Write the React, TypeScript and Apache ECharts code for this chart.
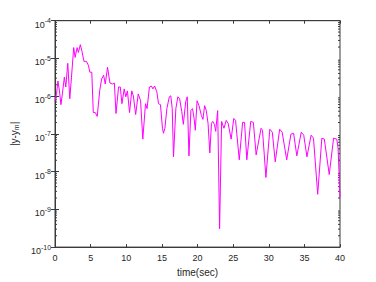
import React, { useEffect, useRef } from 'react';
import * as echarts from 'echarts';

// time (sec)
const times = [
  0, 0.21, 0.41, 0.62, 0.83, 1.03, 1.31, 1.51, 1.79, 2.07,
  2.31, 2.62, 2.82, 3.10, 3.28, 3.55, 3.79, 4.06, 4.41, 4.68,
  4.89, 5.16, 5.37, 5.65, 5.92, 6.27, 6.54, 6.82, 7.05, 7.37,
  7.71, 8.06, 8.33, 8.56, 8.92, 9.16, 9.39, 9.71, 9.94, 10.16,
  10.46, 10.77, 10.99, 11.32, 11.68, 12.01, 12.32, 12.70, 12.92, 13.25,
  13.52, 13.74, 13.98, 14.29, 14.53, 14.80, 15.08, 15.22, 15.42, 15.70,
  16.04, 16.25, 16.45, 16.63, 16.96, 17.24, 17.49, 17.79, 18.01, 18.34,
  18.56, 18.80, 19.07, 19.30, 19.52, 19.69, 19.94, 20.21, 20.54, 20.76,
  21.00, 21.23, 21.48, 21.73, 21.96, 22.14, 22.38, 22.55, 22.83, 23.10,
  23.38, 23.71, 24.03, 24.30, 24.72, 25.09, 25.34, 25.86, 26.33, 26.60,
  26.92, 27.47, 27.84, 28.23, 28.92, 29.12, 29.60, 30.15, 30.50, 30.91,
  31.53, 31.88, 32.52, 33.11, 33.49, 33.94, 34.56, 34.91, 35.36, 35.94,
  36.28, 36.87, 37.45, 37.80, 38.49, 39.10, 39.55, 39.73, 40.0,
];

// |y - y_m|
const errors = [
  7.57e-7, 1.15e-6, 2.52e-6, 1.38e-6, 5.96e-7, 1.15e-6, 3.20e-6, 1.75e-6, 7.41e-6, 8.53e-7,
  3.20e-6, 1.94e-5, 1.06e-5, 1.94e-5, 1.44e-5, 2.32e-5, 1.52e-5, 8.37e-6, 8.37e-6, 6.58e-6,
  4.32e-6, 4.32e-6, 3.68e-7, 3.68e-7, 2.90e-7, 1.38e-6, 2.84e-6, 3.60e-6, 2.10e-6, 5.83e-6,
  2.23e-6, 2.10e-6, 2.23e-6, 3.47e-7, 1.75e-6, 1.75e-6, 6.32e-7, 1.56e-6, 9.62e-7, 1.38e-6,
  3.68e-7, 1.38e-6, 1.02e-6, 3.27e-7, 1.15e-6, 7.57e-7, 7.27e-8, 6.32e-7, 4.68e-7, 1.75e-6,
  1.86e-6, 1.56e-6, 1.86e-6, 1.30e-6, 6.32e-7, 5.96e-7, 1.41e-7, 1.04e-7, 1.41e-7, 4.68e-7,
  9.62e-7, 1.02e-6, 4.68e-7, 2.47e-8, 4.68e-7, 9.62e-7, 8.53e-7, 3.91e-7, 1.79e-7, 7.13e-7,
  9.62e-7, 2.62e-8, 4.15e-7, 4.68e-7, 2.57e-7, 1.25e-7, 7.57e-7, 5.60e-7, 3.08e-7, 2.42e-7,
  5.60e-7, 4.15e-7, 1.90e-7, 3.13e-8, 1.90e-7, 2.14e-7, 1.79e-7, 1.17e-7, 4.15e-7, 3.07e-10,
  2.14e-7, 1.41e-7, 2.28e-7, 1.90e-7, 7.27e-8, 2.57e-7, 2.28e-7, 2.06e-8, 2.02e-7, 2.02e-7,
  2.06e-8, 2.14e-7, 2.02e-7, 2.78e-8, 1.41e-7, 1.25e-7, 6.98e-9, 1.33e-7, 1.11e-7, 1.82e-8,
  1.33e-7, 1.11e-7, 2.06e-8, 9.82e-8, 1.04e-7, 2.62e-8, 1.11e-7, 9.25e-8, 2.47e-8, 9.25e-8,
  7.71e-8, 2.51e-9, 7.71e-8, 7.27e-8, 8.36e-9, 7.71e-8, 7.27e-8, 4.23e-8, 2.10e-9,
];

const xMin = 0;
const xMax = 40;
const xStep = 5;
const yMin = 1e-10;
const yMax = 1e-4;

const decades = [-10, -9, -8, -7, -6, -5];
const minorMultipliers = [2, 3, 4, 5, 6, 7, 8, 9];
const yMinorTicks: number[] = [];
decades.forEach((e) => minorMultipliers.forEach((m) => yMinorTicks.push(m * Math.pow(10, e))));

const AXIS_COLOR = '#3a3a3a';
const TEXT_COLOR = '#262626';
const FONT = 'Liberation Sans, Arial, Helvetica, sans-serif';

export default function App() {
  const ref = useRef<HTMLDivElement>(null);

  useEffect(() => {
    if (!ref.current) return;
    const chart = echarts.init(ref.current, undefined, { renderer: 'svg' });
    const lineData = times.map((t, i) => [t, errors[i]]);

    const option: any = {
      animation: false,
      backgroundColor: '#ffffff',
      textStyle: { fontFamily: FONT },
      grid: {
        left: 49.5,
        right: 36,
        top: 20.7,
        bottom: 31.3,
        show: true,
        borderColor: AXIS_COLOR,
        borderWidth: 1,
        backgroundColor: 'transparent',
      },
      xAxis: [
        {
          type: 'value',
          min: xMin,
          max: xMax,
          interval: xStep,
          position: 'bottom',
          name: 'time(sec)',
          nameLocation: 'middle',
          nameGap: 17,
          nameTextStyle: { fontSize: 10, color: TEXT_COLOR, fontFamily: FONT },
          axisLine: { show: true, lineStyle: { color: AXIS_COLOR, width: 1 } },
          axisTick: { show: true, inside: true, length: 3, lineStyle: { color: AXIS_COLOR } },
          axisLabel: { show: true, margin: 6, fontSize: 9, color: TEXT_COLOR, fontFamily: FONT },
          splitLine: { show: false },
        },
        {
          type: 'value',
          min: xMin,
          max: xMax,
          interval: xStep,
          position: 'top',
          axisLine: { show: true, lineStyle: { color: AXIS_COLOR, width: 1 } },
          axisTick: { show: true, inside: true, length: 3, lineStyle: { color: AXIS_COLOR } },
          axisLabel: { show: false },
          splitLine: { show: false },
        },
      ],
      yAxis: [
        {
          type: 'log',
          logBase: 10,
          min: yMin,
          max: yMax,
          interval: 1,
          position: 'left',
          name: '|y-y{sub|m}|',
          nameLocation: 'middle',
          nameRotate: 90,
          nameGap: 27,
          nameTextStyle: {
            fontSize: 10,
            color: TEXT_COLOR,
            fontFamily: FONT,
            lineHeight: 12,
            rich: {
              sub: { fontSize: 7, lineHeight: 6, verticalAlign: 'bottom', color: TEXT_COLOR, fontFamily: FONT },
            },
          },
          axisLine: { show: true, lineStyle: { color: AXIS_COLOR, width: 1 } },
          axisTick: { show: true, inside: true, length: 4, lineStyle: { color: AXIS_COLOR } },
          axisLabel: {
            show: true,
            margin: 4,
            padding: [5, 0, 0, 0],
            formatter: (v: number) => {
              const e = Math.round(Math.log10(v));
              return `{b|10}{s|${e}}`;
            },
            rich: {
              b: { fontSize: 9, lineHeight: 12, verticalAlign: 'bottom', color: TEXT_COLOR, fontFamily: FONT },
              s: { fontSize: 7, lineHeight: 6, verticalAlign: 'top', color: TEXT_COLOR, fontFamily: FONT },
            },
          },
          splitLine: { show: false },
          minorTick: { show: false },
        },
        {
          type: 'log',
          logBase: 10,
          min: yMin,
          max: yMax,
          interval: 1,
          position: 'right',
          axisLine: { show: true, lineStyle: { color: AXIS_COLOR, width: 1 } },
          axisTick: { show: true, inside: true, length: 4, lineStyle: { color: AXIS_COLOR } },
          axisLabel: { show: false },
          splitLine: { show: false },
        },
      ],
      series: [
        {
          type: 'custom',
          xAxisIndex: 0,
          yAxisIndex: 0,
          silent: true,
          clip: false,
          data: yMinorTicks.map((v) => [xMin, v]),
          encode: { x: 0, y: 1 },
          renderItem: (params: any, api: any) => {
            const v = api.value(1);
            const l = api.coord([xMin, v]);
            const r = api.coord([xMax, v]);
            const style = { stroke: AXIS_COLOR, lineWidth: 1 };
            return {
              type: 'group',
              children: [
                { type: 'line', shape: { x1: l[0], y1: l[1], x2: l[0] + 2, y2: l[1] }, style },
                { type: 'line', shape: { x1: r[0] - 2, y1: r[1], x2: r[0], y2: r[1] }, style },
              ],
            };
          },
        },
        {
          type: 'line',
          xAxisIndex: 0,
          yAxisIndex: 0,
          data: lineData,
          showSymbol: false,
          symbol: 'none',
          smooth: false,
          lineStyle: { color: '#ff00ff', width: 1 },
          itemStyle: { color: '#ff00ff' },
          z: 3,
        },
      ],
    };

    chart.setOption(option);
    return () => {
      chart.dispose();
    };
  }, []);

  return <div ref={ref} style={{ width: 376, height: 282, position: 'absolute', left: 0, top: 0 }} />;
}
